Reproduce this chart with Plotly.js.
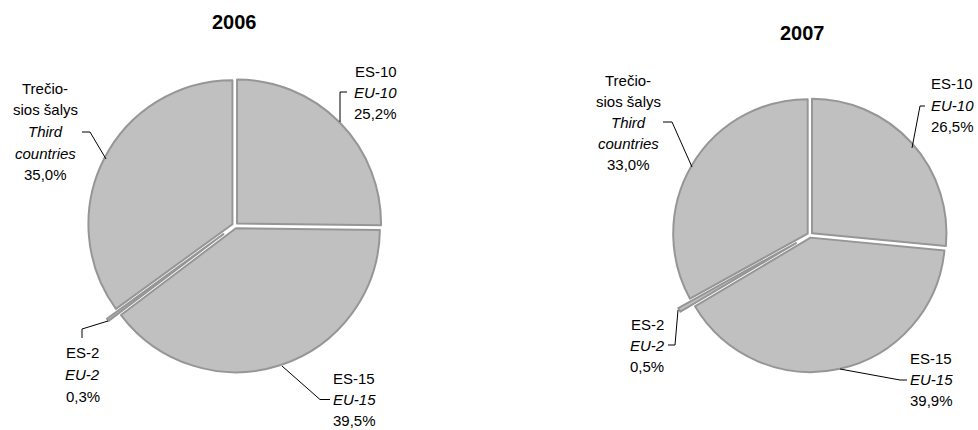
<!DOCTYPE html>
<html>
<head>
<meta charset="utf-8">
<script src="https://cdn.plot.ly/plotly-3.0.1.min.js"></script>
<style>html,body{margin:0;padding:0;background:#fff;}#chart{width:978px;height:430px;}</style>
</head>
<body>
<div id="chart"></div>
<script>
// ---- data ----
const years = ['2006', '2007'];
const labelsLT = ['ES-10', 'ES-15', 'ES-2', 'Trečio-\nsios šalys'];
const labelsEN = ['EU-10', 'EU-15', 'EU-2', 'Third\ncountries'];
const values2006 = [25.2, 39.5, 0.3, 35.0];
const values2007 = [26.5, 39.9, 0.5, 33.0];
const pull2006 = [0.02, 0.02, 0.10, 0.02];
const pull2007 = [0.02, 0.02, 0.12, 0.02];

// ---- layout helpers (pixel space of 978x430 canvas) ----
const W = 978, H = 430;
const px = x => x / W;
const py = y => 1 - y / H;
const FONT = 'Liberation Sans, Arial, sans-serif';

const pieGeom = [
  {x0: 76.6, x1: 393.4, y0: 67.1, y1: 383.9},
  {x0: 659.4, x1: 960.6, y0: 84.4, y1: 385.6}
];
const titlePos = [{x: 234, y: 22}, {x: 802, y: 33}];
// label block: center x, first line center y, line spacing
const labelPos = [
  [ {x: 375.5, y: 71, s: 21.5}, {x: 354, y: 378.5, s: 21}, {x: 82.5, y: 352, s: 22}, {x: 45, y: 88, s: 21.7} ],
  [ {x: 952, y: 84, s: 21.3}, {x: 931, y: 358, s: 21}, {x: 647, y: 324, s: 21}, {x: 628, y: 81, s: 20.8} ]
];
const leaders = [
  [ [[340,122],[340,92],[347,92]], [[282,366],[320,399.5],[330,399.5]], [[108,321],[82,329],[82,338]], [[82,132],[90,132],[106,159]] ],
  [ [[912,148],[920,106],[925,106]], [[840,369],[900,380],[907,380]], [[678,310],[675,345],[668,345]], [[663,122],[672,122],[692,167]] ]
];

const allValues = [values2006, values2007];
const allPulls = [pull2006, pull2007];

const fmtPct = v => v.toFixed(1).replace('.', ',') + '%';

const traces = allValues.map((vals, i) => ({
  type: 'pie',
  values: vals,
  labels: labelsLT.map(s => s.replace('\n', ' ')),
  sort: false,
  direction: 'clockwise',
  rotation: 0,
  pull: allPulls[i],
  textinfo: 'none',
  hoverinfo: 'skip',
  showlegend: false,
  marker: {colors: vals.map(() => '#c0c0c0'), line: {color: '#969696', width: 2}},
  domain: {x: [px(pieGeom[i].x0), px(pieGeom[i].x1)], y: [py(pieGeom[i].y1), py(pieGeom[i].y0)]}
}));

const annotations = [];
const shapes = [];
years.forEach((yr, i) => {
  annotations.push({
    xref: 'paper', yref: 'paper', x: px(titlePos[i].x), y: py(titlePos[i].y),
    xanchor: 'center', yanchor: 'middle', showarrow: false,
    text: '<b>' + yr + '</b>', font: {family: FONT, size: 20, color: '#000'}
  });
  labelsLT.forEach((lt, k) => {
    const lines = [];
    lt.split('\n').forEach(s => lines.push(s));
    labelsEN[k].split('\n').forEach(s => lines.push('<i>' + s + '</i>'));
    lines.push(fmtPct(allValues[i][k]));
    const p = labelPos[i][k];
    lines.forEach((t, j) => {
      annotations.push({
        xref: 'paper', yref: 'paper', x: px(p.x), y: py(p.y + j * p.s),
        xanchor: 'center', yanchor: 'middle', showarrow: false,
        text: t, font: {family: FONT, size: 15, color: '#000'}
      });
    });
    const pts = leaders[i][k];
    shapes.push({
      type: 'path', xref: 'paper', yref: 'paper',
      path: pts.map((q, j) => (j ? 'L' : 'M') + px(q[0]) + ',' + py(q[1])).join(' '),
      line: {color: '#000', width: 1}
    });
  });
});

Plotly.newPlot('chart', traces, {
  width: W, height: H,
  margin: {l: 0, r: 0, t: 0, b: 0},
  paper_bgcolor: '#fff', plot_bgcolor: '#fff',
  annotations: annotations, shapes: shapes
}, {staticPlot: true});
</script>
</body>
</html>
